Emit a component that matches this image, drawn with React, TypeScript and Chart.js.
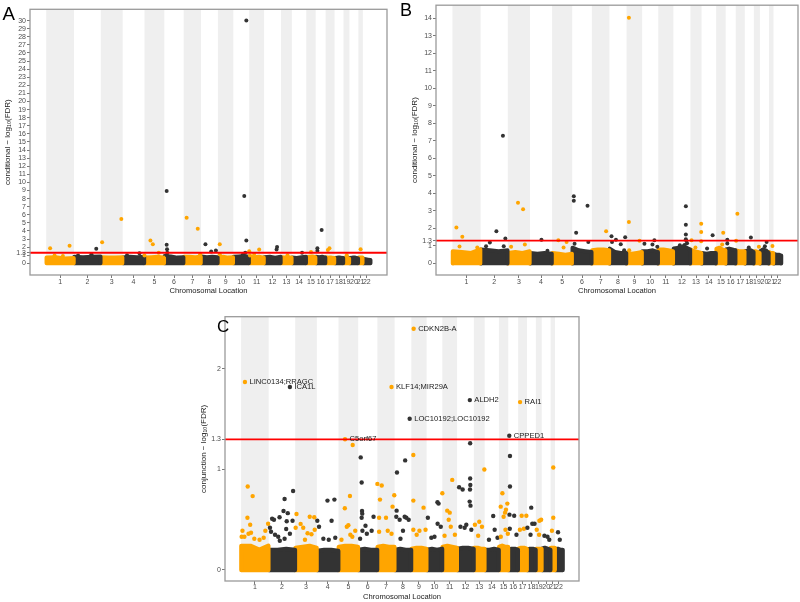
import React, { useEffect, useRef } from 'react';
import { Chart, registerables } from 'chart.js';

Chart.register(...registerables);

// ---------------- DATA ----------------
const chromLabels = ['1', '2', '3', '4', '5', '6', '7', '8', '9', '10', '11', '12', '13', '14', '15', '16', '17', '18', '19', '20', '21', '22'];
// relative chromosome sizes on the x axis
const chromSizes = [28, 27, 22, 22, 20, 19.5, 17.5, 17, 15.5, 16, 15, 17, 11, 14.5, 9.5, 10, 9, 9, 6, 9, 4.5, 8];

const threshold = 1.3;

const yTicksA = [0, 1, 1.3, 2, 3, 4, 5, 6, 7, 8, 9, 10, 11, 12, 13, 14, 15, 16, 17, 18, 19, 20, 21, 22, 23, 24, 25, 26, 27, 28, 29, 30];
const yTicksB = [0, 1, 1.3, 2, 3, 4, 5, 6, 7, 8, 9, 10, 11, 12, 13, 14];
const yTicksC = [0, 1, 1.3, 2];

// [chromosome, relative position within chromosome, -log10(FDR)]
const peaksA: [number, number, number][] = [
  [1, 0.14, 1.85], [1, 0.84, 2.18], [1, 0.3, 0.95], [1, 0.6, 0.9],
  [2, 0.83, 1.81], [2, 0.65, 1.1], [2, 0.15, 0.95],
  [3, 0.06, 2.6], [3, 0.94, 5.48],
  [4, 0.2, 1.0], [4, 0.77, 1.24],
  [5, 0.0, 0.95], [5, 0.3, 2.8], [5, 0.42, 2.35], [5, 0.72, 1.3],
  [6, 0.12, 8.94], [6, 0.12, 2.3], [6, 0.14, 1.73], [6, 0.15, 1.3], [6, 0.13, 1.0],
  [7, 0.17, 5.64], [7, 0.81, 4.28], [7, 0.95, 1.1],
  [8, 0.26, 2.35], [8, 0.6, 1.44], [8, 0.88, 1.57],
  [9, 0.12, 2.35], [9, 0.12, 1.1],
  [10, 0.69, 8.32], [10, 0.82, 30.0], [10, 0.82, 2.8], [10, 0.75, 1.3], [10, 0.6, 1.05],
  [11, 0.0, 1.48], [11, 0.05, 0.95], [11, 0.33, 1.15], [11, 0.67, 1.7],
  [12, 0.77, 2.0], [12, 0.74, 1.7],
  [13, 0.6, 1.0],
  [14, 0.71, 1.3],
  [15, 0.5, 1.4],
  [16, 0.17, 1.85], [16, 0.17, 1.55], [16, 0.6, 4.12],
  [17, 0.25, 1.65], [17, 0.43, 1.85],
  [19, 0.55, 1.0],
  [21, 0.5, 1.73],
];

const peaksB: [number, number, number][] = [
  [1, 0.14, 2.06], [1, 0.35, 1.53], [1, 0.25, 0.97], [1, 0.88, 0.91],
  [2, 0.82, 7.29], [2, 0.58, 1.84], [2, 0.34, 1.19], [2, 0.2, 0.98], [2, 0.91, 1.42], [2, 0.85, 0.98],
  [3, 0.46, 3.47], [3, 0.69, 3.09], [3, 0.15, 0.95], [3, 0.77, 1.08],
  [4, 0.52, 1.36], [4, 0.79, 0.72],
  [5, 0.31, 1.33], [5, 0.72, 1.23], [5, 0.57, 0.91],
  [6, 0.08, 3.84], [6, 0.08, 3.58], [6, 0.2, 1.76], [6, 0.78, 3.29], [6, 0.82, 1.23], [6, 0.12, 1.13],
  [7, 0.81, 1.84],
  [8, 0.12, 1.55], [8, 0.38, 1.36], [8, 0.66, 1.1], [8, 0.92, 1.5], [8, 0.86, 0.76], [8, 0.15, 1.23],
  [9, 0.15, 14.03], [9, 0.15, 2.37], [9, 0.83, 1.29], [9, 0.17, 0.76],
  [10, 0.14, 1.12], [10, 0.76, 1.33], [10, 0.64, 1.08], [10, 0.94, 0.95],
  [12, 0.73, 3.27], [12, 0.73, 2.21], [12, 0.73, 1.66], [12, 0.73, 1.38], [12, 0.76, 1.29], [12, 0.65, 1.05], [12, 0.8, 1.15], [12, 0.38, 1.04], [12, 0.58, 0.98],
  [13, 0.97, 2.27], [13, 0.97, 1.8], [13, 0.97, 1.27], [13, 0.1, 1.33], [13, 0.45, 0.91],
  [14, 0.76, 1.61], [14, 0.38, 0.85],
  [15, 0.74, 1.76], [15, 0.44, 0.87], [15, 0.63, 1.08],
  [16, 0.16, 1.36], [16, 0.16, 1.14],
  [17, 0.18, 2.84], [17, 0.04, 1.29],
  [18, 0.67, 1.48], [18, 0.44, 0.91],
  [19, 0.83, 0.95],
  [20, 0.74, 1.23], [20, 0.55, 0.98], [20, 0.37, 0.8],
  [21, 0.77, 1.0],
];

const peaksC: [number, number, number][] = [
  [1, 0.24, 0.83], [1, 0.42, 0.735], [1, 0.23, 0.52], [1, 0.33, 0.45], [1, 0.05, 0.39], [1, 0.02, 0.33], [1, 0.12, 0.33], [1, 0.27, 0.36], [1, 0.36, 0.37], [1, 0.48, 0.31], [1, 0.82, 0.32], [1, 0.88, 0.39], [1, 0.98, 0.46], [1, 0.67, 0.30],
  [2, 0.92, 0.786], [2, 0.6, 0.706], [2, 0.56, 0.587], [2, 0.72, 0.565], [2, 0.41, 0.524], [2, 0.13, 0.51], [2, 0.2, 0.5], [2, 0.9, 0.49], [2, 0.68, 0.485], [2, 0.66, 0.408], [2, 0.09, 0.38], [2, 0.24, 0.35], [2, 0.36, 0.33], [2, 0.6, 0.31], [2, 0.42, 0.29], [2, 0.8, 0.36], [2, 0.05, 0.42],
  [3, 0.06, 0.557], [3, 0.25, 0.458], [3, 0.67, 0.53], [3, 0.88, 0.524], [3, 0.02, 0.42], [3, 0.37, 0.42], [3, 0.57, 0.365], [3, 0.75, 0.355], [3, 0.45, 0.3], [3, 0.9, 0.4],
  [4, 0.49, 0.69], [4, 0.81, 0.7], [4, 0.68, 0.49], [4, 0.02, 0.49], [4, 0.1, 0.43], [4, 0.3, 0.31], [4, 0.55, 0.3], [4, 0.85, 0.32],
  [5, 0.72, 1.244], [5, 0.58, 0.736], [5, 0.32, 0.614], [5, 0.42, 0.43], [5, 0.5, 0.445], [5, 0.6, 0.35], [5, 0.7, 0.33], [5, 0.85, 0.39], [5, 0.15, 0.3],
  [6, 0.13, 1.12], [6, 0.18, 0.87], [6, 0.2, 0.587], [6, 0.21, 0.56], [6, 0.18, 0.52], [6, 0.38, 0.44], [6, 0.8, 0.53], [6, 0.22, 0.39], [6, 0.7, 0.39], [6, 0.45, 0.36], [6, 0.1, 0.31],
  [7, 0.0, 0.856], [7, 0.25, 0.84], [7, 0.15, 0.70], [7, 0.1, 0.52], [7, 0.5, 0.52], [7, 0.88, 0.63], [7, 0.98, 0.744], [7, 0.1, 0.38], [7, 0.6, 0.39], [7, 0.82, 0.36],
  [8, 0.14, 0.97], [8, 0.63, 1.09], [8, 0.12, 0.59], [8, 0.1, 0.53], [8, 0.3, 0.5], [8, 0.6, 0.53], [8, 0.7, 0.52], [8, 0.84, 0.5], [8, 0.5, 0.39], [8, 0.35, 0.31],
  [9, 0.13, 1.144], [9, 0.13, 0.69], [9, 0.8, 0.62], [9, 0.13, 0.4], [9, 0.53, 0.39], [9, 0.93, 0.4], [9, 0.35, 0.35],
  [10, 0.08, 0.52], [10, 0.69, 0.673], [10, 0.76, 0.66], [10, 0.7, 0.46], [10, 0.9, 0.43], [10, 0.3, 0.32], [10, 0.5, 0.33],
  [11, 0.0, 0.763], [11, 0.67, 0.896], [11, 0.33, 0.59], [11, 0.5, 0.57], [11, 0.43, 0.5], [11, 0.57, 0.43], [11, 0.15, 0.34], [11, 0.85, 0.35],
  [12, 0.78, 1.26], [12, 0.12, 0.823], [12, 0.33, 0.8], [12, 0.78, 0.91], [12, 0.79, 0.845], [12, 0.77, 0.8], [12, 0.75, 0.68], [12, 0.8, 0.64], [12, 0.2, 0.43], [12, 0.45, 0.42], [12, 0.55, 0.45], [12, 0.85, 0.4],
  [13, 0.97, 1.0], [13, 0.5, 0.48], [13, 0.1, 0.45], [13, 0.75, 0.43], [13, 0.4, 0.34],
  [14, 0.6, 0.537], [14, 0.7, 0.4], [14, 0.3, 0.3], [14, 0.9, 0.32],
  [15, 0.37, 0.763], [15, 0.19, 0.63], [15, 0.9, 0.66], [15, 0.75, 0.6], [15, 0.65, 0.57], [15, 0.5, 0.53], [15, 0.7, 0.4], [15, 0.2, 0.33], [15, 0.95, 0.36],
  [16, 0.17, 1.134], [16, 0.17, 0.83], [16, 0.12, 0.55], [16, 0.6, 0.54], [16, 0.15, 0.41], [16, 0.83, 0.35],
  [17, 0.4, 0.54], [17, 0.93, 0.54], [17, 0.65, 0.41], [17, 0.2, 0.4],
  [18, 0.48, 0.62], [18, 0.6, 0.46], [18, 0.85, 0.46], [18, 0.05, 0.42], [18, 0.4, 0.35],
  [19, 0.6, 0.49], [19, 0.9, 0.5], [19, 0.15, 0.4], [19, 0.55, 0.35],
  [20, 0.3, 0.34], [20, 0.65, 0.33], [20, 0.85, 0.3],
  [21, 0.6, 1.02], [21, 0.6, 0.52], [21, 0.3, 0.39],
  [22, 0.38, 0.375], [22, 0.6, 0.3],
];

// labelled genes in panel C
const labelGenes = ['CDKN2B-A', 'LINC0134;RRAGC', 'ICA1L', 'KLF14;MIR29A', 'ALDH2', 'RAI1', 'LOC10192;LOC10192', 'C5orf67', 'CPPED1'];
const labelChr = [9, 1, 2, 7, 12, 17, 8, 5, 16];
const labelPos = [0.15, 0.14, 0.8, 0.82, 0.76, 0.22, 0.9, 0.33, 0.1];
const labelVal = [2.40, 1.87, 1.82, 1.82, 1.69, 1.67, 1.505, 1.30, 1.336];

// top of the dense cloud of points (per chromosome, 4 samples along it)
const bulkA: number[][] = [
  [0.7, 0.75, 0.6, 0.65], [0.8, 0.75, 0.8, 0.85], [0.75, 0.7, 0.7, 0.75], [0.7, 0.8, 0.75, 0.8],
  [0.7, 0.75, 0.8, 0.7], [0.9, 0.85, 0.7, 0.75], [0.8, 0.8, 0.75, 0.8], [0.85, 0.75, 0.8, 0.75],
  [0.7, 0.8, 0.7, 0.75], [0.8, 0.85, 0.9, 0.8], [0.8, 0.75, 0.8, 0.7], [0.75, 0.8, 0.7, 0.8],
  [0.75, 0.7, 0.7, 0.7], [0.7, 0.65, 0.75, 0.8], [0.75, 0.8, 0.85, 0.75], [0.8, 0.75, 0.8, 0.7],
  [0.75, 0.7, 0.7, 0.65], [0.65, 0.7, 0.7, 0.65], [0.6, 0.65, 0.6, 0.6], [0.65, 0.7, 0.7, 0.6],
  [0.7, 0.7, 0.7, 0.7], [0.55, 0.5, 0.45, 0.4],
];
const bulkB: number[][] = [
  [0.7, 0.65, 0.6, 0.8], [0.8, 0.75, 0.7, 0.75], [0.6, 0.65, 0.6, 0.7], [0.6, 0.55, 0.6, 0.55],
  [0.6, 0.55, 0.5, 0.55], [0.9, 0.75, 0.7, 0.65], [0.75, 0.8, 0.8, 0.75], [0.85, 0.65, 0.6, 0.6],
  [0.6, 0.55, 0.6, 0.65], [0.7, 0.7, 0.75, 0.65], [0.8, 0.8, 0.75, 0.7], [0.85, 0.9, 0.95, 0.8],
  [0.8, 0.7, 0.65, 0.6], [0.6, 0.55, 0.6, 0.6], [0.85, 0.9, 0.8, 0.75], [0.8, 0.85, 0.8, 0.75],
  [0.75, 0.7, 0.7, 0.7], [0.7, 0.75, 0.75, 0.65], [0.7, 0.7, 0.65, 0.6], [0.7, 0.8, 0.75, 0.6],
  [0.65, 0.6, 0.6, 0.6], [0.55, 0.5, 0.5, 0.45],
];
const bulkC: number[][] = [
  [0.24, 0.24, 0.2, 0.24], [0.2, 0.2, 0.21, 0.2], [0.22, 0.23, 0.24, 0.22], [0.19, 0.2, 0.2, 0.19],
  [0.23, 0.24, 0.24, 0.23], [0.2, 0.21, 0.2, 0.2], [0.23, 0.24, 0.23, 0.23], [0.2, 0.21, 0.2, 0.2],
  [0.21, 0.22, 0.22, 0.21], [0.2, 0.21, 0.2, 0.21], [0.23, 0.24, 0.23, 0.22], [0.21, 0.22, 0.22, 0.21],
  [0.22, 0.22, 0.21, 0.21], [0.2, 0.2, 0.21, 0.2], [0.23, 0.24, 0.23, 0.23], [0.2, 0.21, 0.21, 0.2],
  [0.21, 0.22, 0.22, 0.21], [0.2, 0.21, 0.21, 0.2], [0.21, 0.21, 0.21, 0.21], [0.21, 0.22, 0.21, 0.2],
  [0.22, 0.22, 0.22, 0.22], [0.2, 0.21, 0.2, 0.2],
];

// ---------------- STYLE / LAYOUT ----------------
const FONT = "'Liberation Sans', Arial, Helvetica, sans-serif";
const ORANGE = '#FFA500';
const DARK = '#333333';
const BAND = '#EFEFEF';

const offsets: number[] = [];
chromSizes.reduce((acc, s) => { offsets.push(acc); return acc + s; }, 0);
const total = chromSizes.reduce((a, b) => a + b, 0);
const xMin = -0.05 * total;
const xMax = 1.05 * total;
const centers = chromSizes.map((s, i) => offsets[i] + s / 2);
const xOf = (chr: number, rel: number) => offsets[chr - 1] + rel * chromSizes[chr - 1];
const colorOf = (chr: number) => (chr % 2 === 1 ? ORANGE : DARK);

type PanelCfg = {
  peaks: [number, number, number][];
  bulk: number[][];
  yTicks: number[];
  yMin: number;
  yMax: number;
  yTitle: string;
  w: number; h: number;
  padRight: number; padTop: number;
  yAxisW: number; xAxisH: number;
  yTitlePad: number; xTitlePad: number; xTickPad: number;
  radius: number; bulkBase: number;
  labels: boolean;
};

const panelA: PanelCfg = {
  peaks: peaksA, bulk: bulkA, yTicks: yTicksA, yMin: -1.45, yMax: 31.4,
  yTitle: 'conditional − log₁₀(FDR)', w: 400, h: 302, padRight: 13, padTop: 9.3,
  yAxisW: 30, xAxisH: 27, yTitlePad: 3, xTitlePad: 6.4, xTickPad: 0, radius: 2, bulkBase: -0.25, labels: false,
};
const panelB: PanelCfg = {
  peaks: peaksB, bulk: bulkB, yTicks: yTicksB, yMin: -0.66, yMax: 14.75,
  yTitle: 'conditional − log₁₀(FDR)', w: 400, h: 302, padRight: 2, padTop: 3.5,
  yAxisW: 36, xAxisH: 27, yTitlePad: 9.9, xTitlePad: 6.4, xTickPad: 0, radius: 2, bulkBase: -0.11, labels: false,
};
const panelC: PanelCfg = {
  peaks: peaksC, bulk: bulkC, yTicks: yTicksC, yMin: -0.11, yMax: 2.52,
  yTitle: 'conjunction − log₁₀(FDR)', w: 400, h: 292, padRight: 11, padTop: 6.7,
  yAxisW: 35, xAxisH: 21, yTitlePad: 8.5, xTitlePad: 0.9, xTickPad: -1, radius: 2.2, bulkBase: -0.022, labels: true,
};

function buildChart(canvas: HTMLCanvasElement, cfg: PanelCfg) {
  const datasets: any[] = [];
  datasets.push({
    type: 'line',
    data: [{ x: xMin, y: threshold }, { x: xMax, y: threshold }],
    borderColor: '#FF0000', borderWidth: 1.8, pointRadius: 0, fill: false, order: 0,
  });
  datasets.push({
    type: 'scatter',
    data: cfg.peaks.map(([c, p, v]) => ({ x: xOf(c, p), y: v })),
    backgroundColor: cfg.peaks.map(([c]) => colorOf(c)),
    pointRadius: cfg.radius, pointHoverRadius: cfg.radius, borderWidth: 0, order: 1,
  });
  if (cfg.labels) {
    datasets.push({
      type: 'scatter',
      data: labelGenes.map((_, i) => ({ x: xOf(labelChr[i], labelPos[i]), y: labelVal[i] })),
      backgroundColor: labelChr.map((c) => colorOf(c)),
      pointRadius: cfg.radius, pointHoverRadius: cfg.radius, borderWidth: 0, order: 1,
    });
  }
  cfg.bulk.forEach((hs, i) => {
    const col = colorOf(i + 1);
    const s = offsets[i] + 0.3;
    const e = offsets[i] + chromSizes[i] - 0.3;
    const n = hs.length;
    const pts = [{ x: s, y: 0 }, ...hs.map((v, k) => ({ x: s + ((e - s) * k) / (n - 1), y: v })), { x: e, y: 0 }];
    datasets.push({
      type: 'line', data: pts, borderColor: col, backgroundColor: col,
      borderWidth: cfg.radius * 2, pointRadius: 0, tension: 0,
      fill: { value: cfg.bulkBase }, borderJoinStyle: 'round', borderCapStyle: 'round', order: 2,
    });
  });

  const decor = {
    id: 'decor',
    beforeDatasetsDraw(chart: any) {
      const { ctx, chartArea } = chart;
      const xs = chart.scales.x;
      const ys = chart.scales.y;
      ctx.save();
      ctx.beginPath();
      ctx.rect(chartArea.left, chartArea.top, chartArea.right - chartArea.left, chartArea.bottom - chartArea.top);
      ctx.clip();
      ctx.fillStyle = BAND;
      const y0 = ys.getPixelForValue(0);
      chromSizes.forEach((s, i) => {
        if (i % 2 !== 0) return;
        const x0 = xs.getPixelForValue(offsets[i]);
        const x1 = xs.getPixelForValue(offsets[i] + s);
        ctx.fillRect(x0, chartArea.top, x1 - x0, y0 - chartArea.top);
      });
      ctx.restore();
    },
    afterDatasetsDraw(chart: any) {
      const { ctx, chartArea } = chart;
      if (cfg.labels) {
        const xs = chart.scales.x;
        const ys = chart.scales.y;
        ctx.save();
        ctx.font = `7.6px ${FONT}`;
        ctx.fillStyle = '#1a1a1a';
        ctx.textBaseline = 'middle';
        ctx.textAlign = 'left';
        labelGenes.forEach((g, i) => {
          const px = xs.getPixelForValue(xOf(labelChr[i], labelPos[i]));
          const py = ys.getPixelForValue(labelVal[i]);
          ctx.fillText(g, px + 4.5, py);
        });
        ctx.restore();
      }
      ctx.save();
      ctx.strokeStyle = '#9a9a9a';
      ctx.lineWidth = 1.3;
      ctx.strokeRect(chartArea.left, chartArea.top, chartArea.right - chartArea.left, chartArea.bottom - chartArea.top);
      ctx.restore();
    },
  };

  return new Chart(canvas, {
    type: 'scatter',
    data: { datasets },
    plugins: [decor],
    options: {
      responsive: false,
      animation: false,
      events: [],
      layout: { padding: { left: 0, right: cfg.padRight, top: cfg.padTop, bottom: 0 } },
      plugins: { legend: { display: false }, tooltip: { enabled: false } },
      scales: {
        x: {
          type: 'linear', bounds: 'data', min: xMin, max: xMax,
          afterBuildTicks: (s: any) => { s.ticks = centers.map((v) => ({ value: v })); },
          afterFit: (s: any) => { s.height = cfg.xAxisH; },
          ticks: {
            autoSkip: false, maxRotation: 0, minRotation: 0, padding: cfg.xTickPad,
            font: { size: 7, family: FONT }, color: '#4d4d4d',
            callback: (_v: any, i: number) => chromLabels[i],
          },
          grid: { drawOnChartArea: false, drawTicks: true, tickLength: 3, color: '#555', lineWidth: 0.8 },
          border: { display: false },
          title: {
            display: true, text: 'Chromosomal Location', color: '#1a1a1a',
            font: { size: 7.6, family: FONT }, padding: { top: 0, bottom: cfg.xTitlePad },
          },
        },
        y: {
          type: 'linear', bounds: 'data', min: cfg.yMin, max: cfg.yMax,
          afterBuildTicks: (s: any) => { s.ticks = cfg.yTicks.map((v) => ({ value: v })); },
          afterFit: (s: any) => { s.width = cfg.yAxisW; },
          ticks: {
            autoSkip: false, padding: 1,
            font: { size: 7, family: FONT }, color: '#4d4d4d',
            callback: (v: any) => (v === 1.3 ? '1.3' : String(v)),
          },
          grid: { drawOnChartArea: false, drawTicks: true, tickLength: 3, color: '#555', lineWidth: 0.8 },
          border: { display: false },
          title: {
            display: true, text: cfg.yTitle, color: '#1a1a1a',
            font: { size: 8, family: FONT }, padding: { top: cfg.yTitlePad, bottom: 0 },
          },
        },
      },
    } as any,
  });
}

function Panel({ cfg, left, top }: { cfg: PanelCfg; left: number; top: number }) {
  const ref = useRef<HTMLCanvasElement>(null);
  useEffect(() => {
    if (!ref.current) return;
    const chart = buildChart(ref.current, cfg);
    return () => chart.destroy();
  }, [cfg]);
  return (
    <canvas
      ref={ref}
      width={cfg.w}
      height={cfg.h}
      style={{ position: 'absolute', left, top, width: cfg.w, height: cfg.h, display: 'block' }}
    />
  );
}

const letterStyle = (left: number, top: number, size: number): React.CSSProperties => ({
  position: 'absolute', left, top, fontSize: size, lineHeight: 1, fontFamily: FONT, color: '#000',
});

export default function App() {
  return (
    <div style={{ position: 'absolute', left: 0, top: 0, width: 800, height: 602, background: '#fff', overflow: 'hidden' }}>
      <Panel cfg={panelA} left={0} top={0} />
      <Panel cfg={panelB} left={400} top={0} />
      <Panel cfg={panelC} left={190} top={310} />
      <div style={letterStyle(2.5, 4.9, 18.7)}>A</div>
      <div style={letterStyle(400, 1, 18)}>B</div>
      <div style={letterStyle(217, 318.3, 17)}>C</div>
    </div>
  );
}
